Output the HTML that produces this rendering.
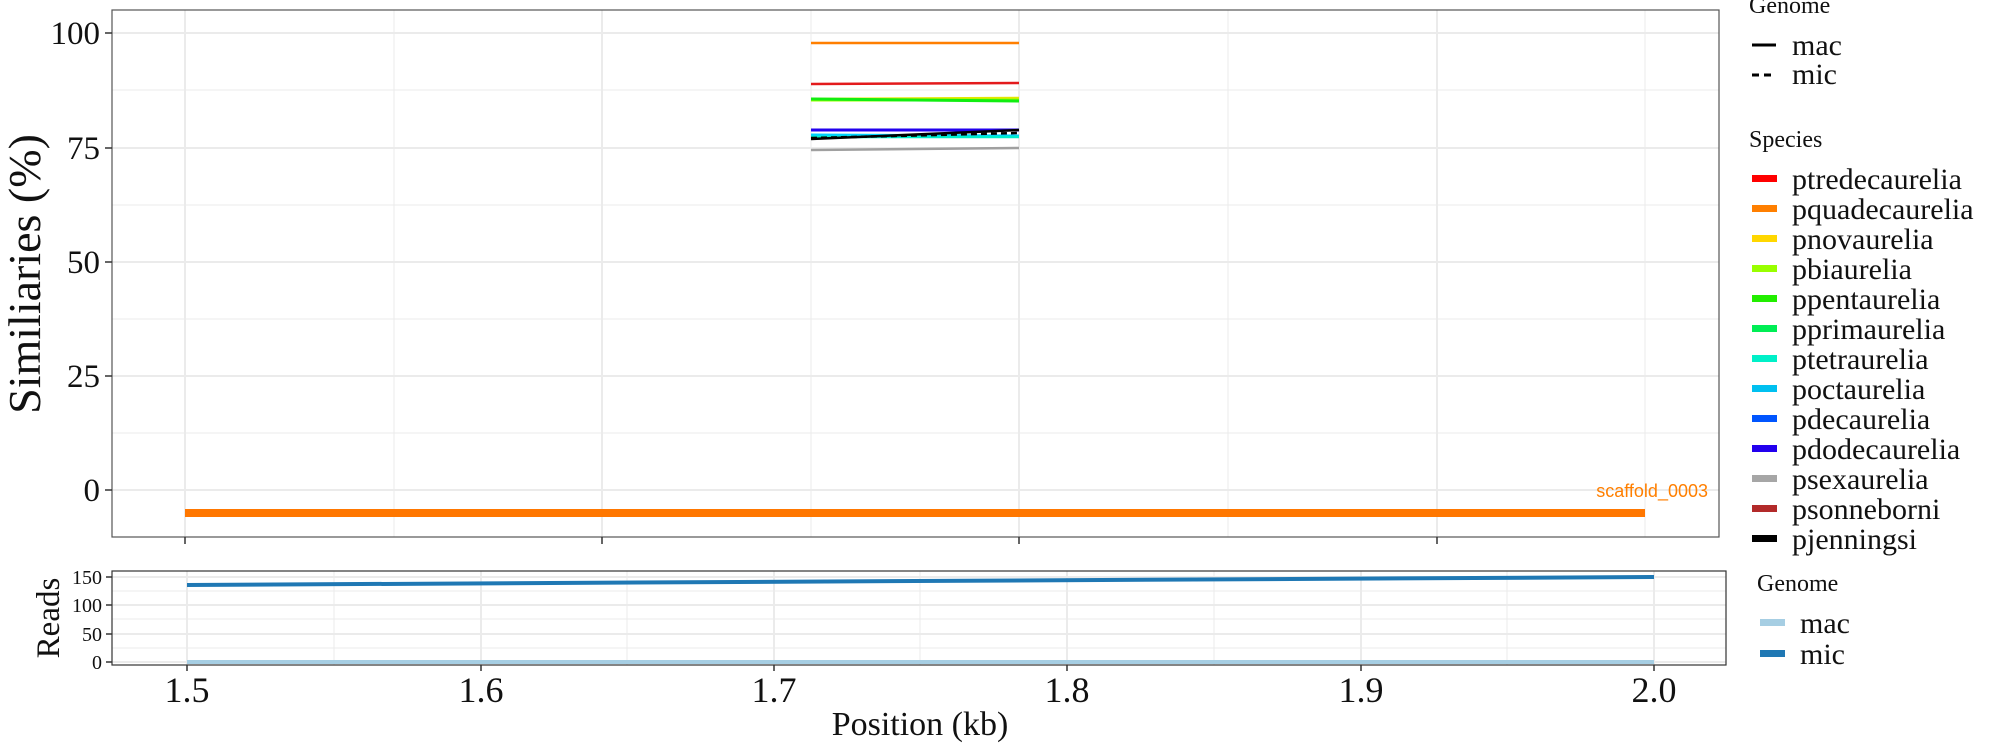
<!DOCTYPE html>
<html><head><meta charset="utf-8"><style>body{margin:0;background:#fff}svg{display:block}</style></head><body>
<svg width="2000" height="750" xmlns="http://www.w3.org/2000/svg" font-family="Liberation Serif, serif">
<rect width="2000" height="750" fill="#fff"/>
<g stroke="#ebebeb" stroke-width="1">
<line x1="112" x2="1719" y1="90" y2="90"/><line x1="112" x2="1719" y1="205" y2="205"/><line x1="112" x2="1719" y1="319" y2="319"/><line x1="112" x2="1719" y1="433" y2="433"/>
<line x1="394" x2="394" y1="10" y2="537"/><line x1="811" x2="811" y1="10" y2="537"/><line x1="1228" x2="1228" y1="10" y2="537"/><line x1="1645" x2="1645" y1="10" y2="537"/>
</g>
<g stroke="#ebebeb" stroke-width="2">
<line x1="112" x2="1719" y1="33" y2="33"/><line x1="112" x2="1719" y1="148" y2="148"/><line x1="112" x2="1719" y1="262" y2="262"/><line x1="112" x2="1719" y1="376" y2="376"/><line x1="112" x2="1719" y1="490" y2="490"/>
<line x1="185" x2="185" y1="10" y2="537"/><line x1="602" x2="602" y1="10" y2="537"/><line x1="1019" x2="1019" y1="10" y2="537"/><line x1="1437" x2="1437" y1="10" y2="537"/>
</g>
<g stroke-width="2.5">
<line x1="811" x2="1019" y1="43" y2="43" stroke="#ff7f00"/>
<line x1="811" x2="1019" y1="84" y2="83" stroke="#e31a1c"/>
<line x1="811" x2="1019" y1="99" y2="98" stroke="#e6e600"/>
<line x1="811" x2="1019" y1="100" y2="100" stroke="#99ff00" stroke-width="3"/>
<line x1="811" x2="1019" y1="99" y2="101" stroke="#11ee11" stroke-width="3"/>
<line x1="811" x2="1019" y1="130" y2="130" stroke="#2200ee" stroke-width="3"/>
<line x1="811" x2="1019" y1="135" y2="136" stroke="#00d0ff" stroke-width="3"/>
<line x1="811" x2="1019" y1="137" y2="137" stroke="#00eecc"/>
<line x1="811" x2="1019" y1="139" y2="130" stroke="#000"/>
<line x1="811" x2="1019" y1="138" y2="133" stroke="#000" stroke-dasharray="6,4"/>
<line x1="811" x2="1019" y1="150" y2="148" stroke="#a0a0a0"/>
</g>
<line x1="185" x2="1645" y1="513" y2="513" stroke="#ff7700" stroke-width="8"/>
<text x="1708" y="497" text-anchor="end" font-family="Liberation Sans, sans-serif" font-size="18" fill="#ff7f00">scaffold_0003</text>
<rect x="112" y="10" width="1607" height="527" fill="none" stroke="#555" stroke-width="1.2"/>
<g stroke="#333" stroke-width="1.5"><line x1="185" x2="185" y1="537" y2="544"/><line x1="602" x2="602" y1="537" y2="544"/><line x1="1019" x2="1019" y1="537" y2="544"/><line x1="1437" x2="1437" y1="537" y2="544"/>
<line x1="105" x2="112" y1="33" y2="33"/><line x1="105" x2="112" y1="148" y2="148"/><line x1="105" x2="112" y1="262" y2="262"/><line x1="105" x2="112" y1="376" y2="376"/><line x1="105" x2="112" y1="490" y2="490"/></g>
<g font-size="33" text-anchor="end" fill="#111"><text x="100" y="44">100</text><text x="100" y="159">75</text><text x="100" y="273">50</text><text x="100" y="387">25</text><text x="100" y="501">0</text></g>
<text transform="translate(40,274) rotate(-90)" text-anchor="middle" font-size="46" fill="#111">Similiaries (%)</text>
<g stroke="#ebebeb" stroke-width="1">
<line x1="112" x2="1726" y1="591" y2="591"/><line x1="112" x2="1726" y1="619" y2="619"/><line x1="112" x2="1726" y1="648" y2="648"/>
<line x1="334" x2="334" y1="571" y2="665"/><line x1="627" x2="627" y1="571" y2="665"/><line x1="920" x2="920" y1="571" y2="665"/><line x1="1214" x2="1214" y1="571" y2="665"/><line x1="1507" x2="1507" y1="571" y2="665"/>
</g>
<g stroke="#ebebeb" stroke-width="2">
<line x1="112" x2="1726" y1="577" y2="577"/><line x1="112" x2="1726" y1="605" y2="605"/><line x1="112" x2="1726" y1="634" y2="634"/><line x1="112" x2="1726" y1="662" y2="662"/>
<line x1="187" x2="187" y1="571" y2="665"/><line x1="481" x2="481" y1="571" y2="665"/><line x1="774" x2="774" y1="571" y2="665"/><line x1="1067" x2="1067" y1="571" y2="665"/><line x1="1361" x2="1361" y1="571" y2="665"/><line x1="1654" x2="1654" y1="571" y2="665"/>
</g>
<line x1="187" x2="1654" y1="662" y2="662" stroke="#a6cee3" stroke-width="4"/>
<line x1="187" x2="1654" y1="585" y2="577" stroke="#1f78b4" stroke-width="4"/>
<rect x="112" y="571" width="1614" height="94" fill="none" stroke="#333" stroke-width="1.2"/>
<g stroke="#333" stroke-width="1.5"><line x1="106" x2="112" y1="577" y2="577"/><line x1="106" x2="112" y1="605" y2="605"/><line x1="106" x2="112" y1="634" y2="634"/><line x1="106" x2="112" y1="662" y2="662"/>
<line x1="187" x2="187" y1="665" y2="671"/><line x1="481" x2="481" y1="665" y2="671"/><line x1="774" x2="774" y1="665" y2="671"/><line x1="1067" x2="1067" y1="665" y2="671"/><line x1="1361" x2="1361" y1="665" y2="671"/><line x1="1654" x2="1654" y1="665" y2="671"/></g>
<g font-size="20" text-anchor="end" fill="#111"><text x="102" y="584">150</text><text x="102" y="612">100</text><text x="102" y="641">50</text><text x="102" y="669">0</text></g>
<text transform="translate(59,618) rotate(-90)" text-anchor="middle" font-size="33" fill="#111">Reads</text>
<g font-size="36" text-anchor="middle" fill="#111"><text x="187" y="702">1.5</text><text x="481" y="702">1.6</text><text x="774" y="702">1.7</text><text x="1067" y="702">1.8</text><text x="1361" y="702">1.9</text><text x="1654" y="702">2.0</text></g>
<text x="920" y="735" text-anchor="middle" font-size="34" fill="#111">Position (kb)</text>
<g fill="#111">
<text x="1749" y="13" font-size="24">Genome</text>
<line x1="1752" x2="1776" y1="45" y2="45" stroke="#000" stroke-width="3"/>
<line x1="1752" x2="1776" y1="75" y2="75" stroke="#000" stroke-width="3" stroke-dasharray="7,5"/>
<text x="1792" y="55" font-size="30">mac</text><text x="1792" y="84" font-size="30">mic</text>
<text x="1749" y="147" font-size="24">Species</text>
<g font-size="30">
<rect x="1752" y="175" width="25" height="7" fill="#ff0000"/><text x="1792" y="189">ptredecaurelia</text>
<rect x="1752" y="205" width="25" height="7" fill="#ff7f00"/><text x="1792" y="219">pquadecaurelia</text>
<rect x="1752" y="235" width="25" height="7" fill="#ffd700"/><text x="1792" y="249">pnovaurelia</text>
<rect x="1752" y="265" width="25" height="7" fill="#99ff00"/><text x="1792" y="279">pbiaurelia</text>
<rect x="1752" y="295" width="25" height="7" fill="#22ee00"/><text x="1792" y="309">ppentaurelia</text>
<rect x="1752" y="325" width="25" height="7" fill="#00ee55"/><text x="1792" y="339">pprimaurelia</text>
<rect x="1752" y="355" width="25" height="7" fill="#00f0c8"/><text x="1792" y="369">ptetraurelia</text>
<rect x="1752" y="385" width="25" height="7" fill="#00c0f0"/><text x="1792" y="399">poctaurelia</text>
<rect x="1752" y="415" width="25" height="7" fill="#0055ff"/><text x="1792" y="429">pdecaurelia</text>
<rect x="1752" y="445" width="25" height="7" fill="#2200ee"/><text x="1792" y="459">pdodecaurelia</text>
<rect x="1752" y="475" width="25" height="7" fill="#a6a6a6"/><text x="1792" y="489">psexaurelia</text>
<rect x="1752" y="505" width="25" height="7" fill="#b22a2a"/><text x="1792" y="519">psonneborni</text>
<rect x="1752" y="535" width="25" height="7" fill="#000"/><text x="1792" y="549">pjenningsi</text>
</g>
<text x="1757" y="591" font-size="24">Genome</text>
<rect x="1760" y="619" width="25" height="7" fill="#a6cee3"/><text x="1800" y="633" font-size="30">mac</text>
<rect x="1760" y="650" width="25" height="7" fill="#1f78b4"/><text x="1800" y="664" font-size="30">mic</text>
</g>
</svg>
</body></html>
